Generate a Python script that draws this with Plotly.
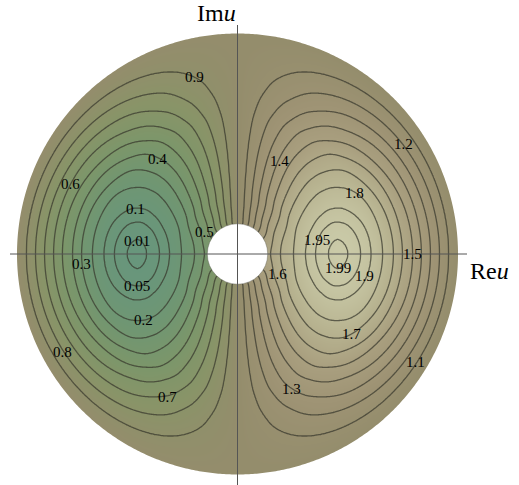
import numpy as np
import plotly.graph_objects as go

# ---------------- data ----------------
# geometry in units of the outer radius
inner_radius = 0.137

# radial amplitude profile h(r) of f = 1 + h(r) cos(theta)
profile_r = [0.136, 0.150, 0.195, 0.254, 0.295, 0.354, 0.413, 0.456, 0.499, 0.558,
             0.612, 0.658, 0.707, 0.748, 0.794, 0.834, 0.875, 0.916, 0.957, 1.0]
profile_h = [0.585, 0.60, 0.70, 0.80, 0.88, 0.95, 0.99, 1.0, 0.99, 0.95,
             0.89, 0.80, 0.70, 0.60, 0.50, 0.40, 0.30, 0.20, 0.10, 0.0]

# contour levels drawn
contour_levels = [0.01, 0.05, 0.1, 0.2, 0.3, 0.4, 0.5, 0.6, 0.7, 0.8, 0.9,
                  1.1, 1.2, 1.3, 1.4, 1.5, 1.6, 1.7, 1.8, 1.9, 1.95, 1.99]

# contour labels and where they sit (pixel positions in the picture)
label_texts = ["0.9", "0.4", "0.6", "0.1", "0.01", "0.5", "0.3", "0.05", "0.2", "0.8", "0.7",
               "1.3", "1.7", "1.1", "1.2", "1.4", "1.8", "1.95", "1.99", "1.9", "1.5", "1.6"]
label_px = [(194, 77), (157, 159), (70, 184), (135, 209), (137, 241), (204, 232), (81, 264),
            (137, 286), (143, 320), (62, 352), (167, 397),
            (291, 389), (351, 334), (415, 362), (403, 144), (279, 161), (354, 193),
            (317, 240), (338, 268), (364, 276), (412, 254), (277, 274)]

# colour stops along the value range 0..2
color_values = [0.0, 0.25, 0.5, 0.75, 1.0, 1.25, 1.5, 1.75, 2.0]
color_rgb = ["rgb(104,150,124)", "rgb(112,150,114)", "rgb(124,150,106)", "rgb(137,148,104)",
             "rgb(148,141,108)", "rgb(158,147,116)", "rgb(169,159,127)", "rgb(184,180,145)",
             "rgb(202,202,168)"]

# ---------------- layout constants ----------------
W, H = 519, 485
CX, CY, SCALE = 237.5, 254.0, 220.5


def px_to_data(px, py):
    return (px - CX) / SCALE, (CY - py) / SCALE


def pchip(xk, yk, x):
    xk = np.asarray(xk, float)
    yk = np.asarray(yk, float)
    hk = np.diff(xk)
    dk = np.diff(yk) / hk
    n = len(xk)
    m = np.zeros(n)
    for i in range(1, n - 1):
        if dk[i - 1] * dk[i] <= 0:
            m[i] = 0.0
        else:
            w1 = 2 * hk[i] + hk[i - 1]
            w2 = hk[i] + 2 * hk[i - 1]
            m[i] = (w1 + w2) / (w1 / dk[i - 1] + w2 / dk[i])
    m[0] = 0.0
    m[-1] = dk[-1]
    idx = np.clip(np.searchsorted(xk, x) - 1, 0, n - 2)
    t = (x - xk[idx]) / hk[idx]
    h00 = 2 * t**3 - 3 * t**2 + 1
    h10 = t**3 - 2 * t**2 + t
    h01 = -2 * t**3 + 3 * t**2
    h11 = t**3 - t**2
    return h00 * yk[idx] + h10 * hk[idx] * m[idx] + h01 * yk[idx + 1] + h11 * hk[idx] * m[idx + 1]


N = 421
xs = np.linspace(-1.02, 1.02, N)
ys = np.linspace(-1.02, 1.02, N)
X, Y = np.meshgrid(xs, ys)
R = np.hypot(X, Y)
Rc = np.clip(R, profile_r[0], profile_r[-1])
hval = pchip(profile_r, profile_h, Rc)
hval = np.where(R >= 1.0, 0.0, hval)
F = 1.0 + hval * X / np.maximum(R, 1e-9)

# monotone relabelling so the uneven levels become integer steps for one line trace
knots_f = [0.0] + contour_levels + [2.0]
knots_g = list(range(len(knots_f)))
G = np.interp(F, knots_f, knots_g)

colorscale = [[v / 2.0, c] for v, c in zip(color_values, color_rgb)]

fig = go.Figure()
fig.add_trace(go.Heatmap(x=xs, y=ys, z=np.round(F, 4), zmin=0, zmax=2, zsmooth="best",
                         colorscale=colorscale, showscale=False, hoverinfo="skip"))
fig.add_trace(go.Contour(x=xs, y=ys, z=np.round(G, 4),
                         contours=dict(start=1, end=len(contour_levels), size=1, coloring="none"),
                         line=dict(color="rgba(55,55,45,0.72)", width=1.3),
                         showscale=False, hoverinfo="skip"))

# white mask outside the disk
theta = np.linspace(0, 2 * np.pi, 721)
big = 3.0
path = f"M {-big},{-big} L {big},{-big} L {big},{big} L {-big},{big} Z "
path += "M " + " L ".join(f"{np.cos(t):.5f},{np.sin(t):.5f}" for t in theta) + " Z"
shapes = [
    dict(type="path", path=path, fillcolor="white", fillrule="evenodd",
         line=dict(width=0), layer="above", xref="x", yref="y"),
    dict(type="circle", x0=-inner_radius, x1=inner_radius, y0=-inner_radius, y1=inner_radius,
         fillcolor="white", line=dict(color="rgba(90,90,80,0.5)", width=0.8), layer="above",
         xref="x", yref="y"),
]
hx0, _ = px_to_data(10, 0)
hx1, _ = px_to_data(467, 0)
_, vy0 = px_to_data(0, 25)
_, vy1 = px_to_data(0, 490)
shapes.append(dict(type="line", x0=hx0, x1=hx1, y0=0, y1=0, line=dict(color="#555555", width=1),
                   layer="above", xref="x", yref="y"))
shapes.append(dict(type="line", x0=0, x1=0, y0=vy0, y1=vy1, line=dict(color="#555555", width=1),
                   layer="above", xref="x", yref="y"))

annotations = []
for txt, (px, py) in zip(label_texts, label_px):
    ax_, ay_ = px_to_data(px, py)
    annotations.append(dict(x=ax_, y=ay_, text=txt, showarrow=False, xanchor="center",
                            yanchor="middle", font=dict(family="Liberation Serif", size=15, color="black")))

annotations.append(dict(x=238 / W, y=1, xref="paper", yref="paper", text="Im<i>u</i>",
                        showarrow=False, xanchor="right", yanchor="top", yshift=2,
                        font=dict(family="Liberation Serif", size=24, color="black")))
annotations.append(dict(x=468 / W, y=1 - 256 / H, xref="paper", yref="paper", text="Re<i>u</i>",
                        showarrow=False, xanchor="left", yanchor="top",
                        font=dict(family="Liberation Serif", size=24, color="black")))

x_lo, y_hi = px_to_data(0, 0)
x_hi, y_lo = px_to_data(W, H)
fig.update_layout(
    width=W, height=H, margin=dict(l=0, r=0, t=0, b=0),
    paper_bgcolor="white", plot_bgcolor="white",
    xaxis=dict(range=[x_lo, x_hi], visible=False, fixedrange=True),
    yaxis=dict(range=[y_lo, y_hi], visible=False, fixedrange=True),
    shapes=shapes, annotations=annotations, showlegend=False,
)
fig.write_html("out.html", config={"displayModeBar": False},
               post_script="document.body.style.margin='0px';")
